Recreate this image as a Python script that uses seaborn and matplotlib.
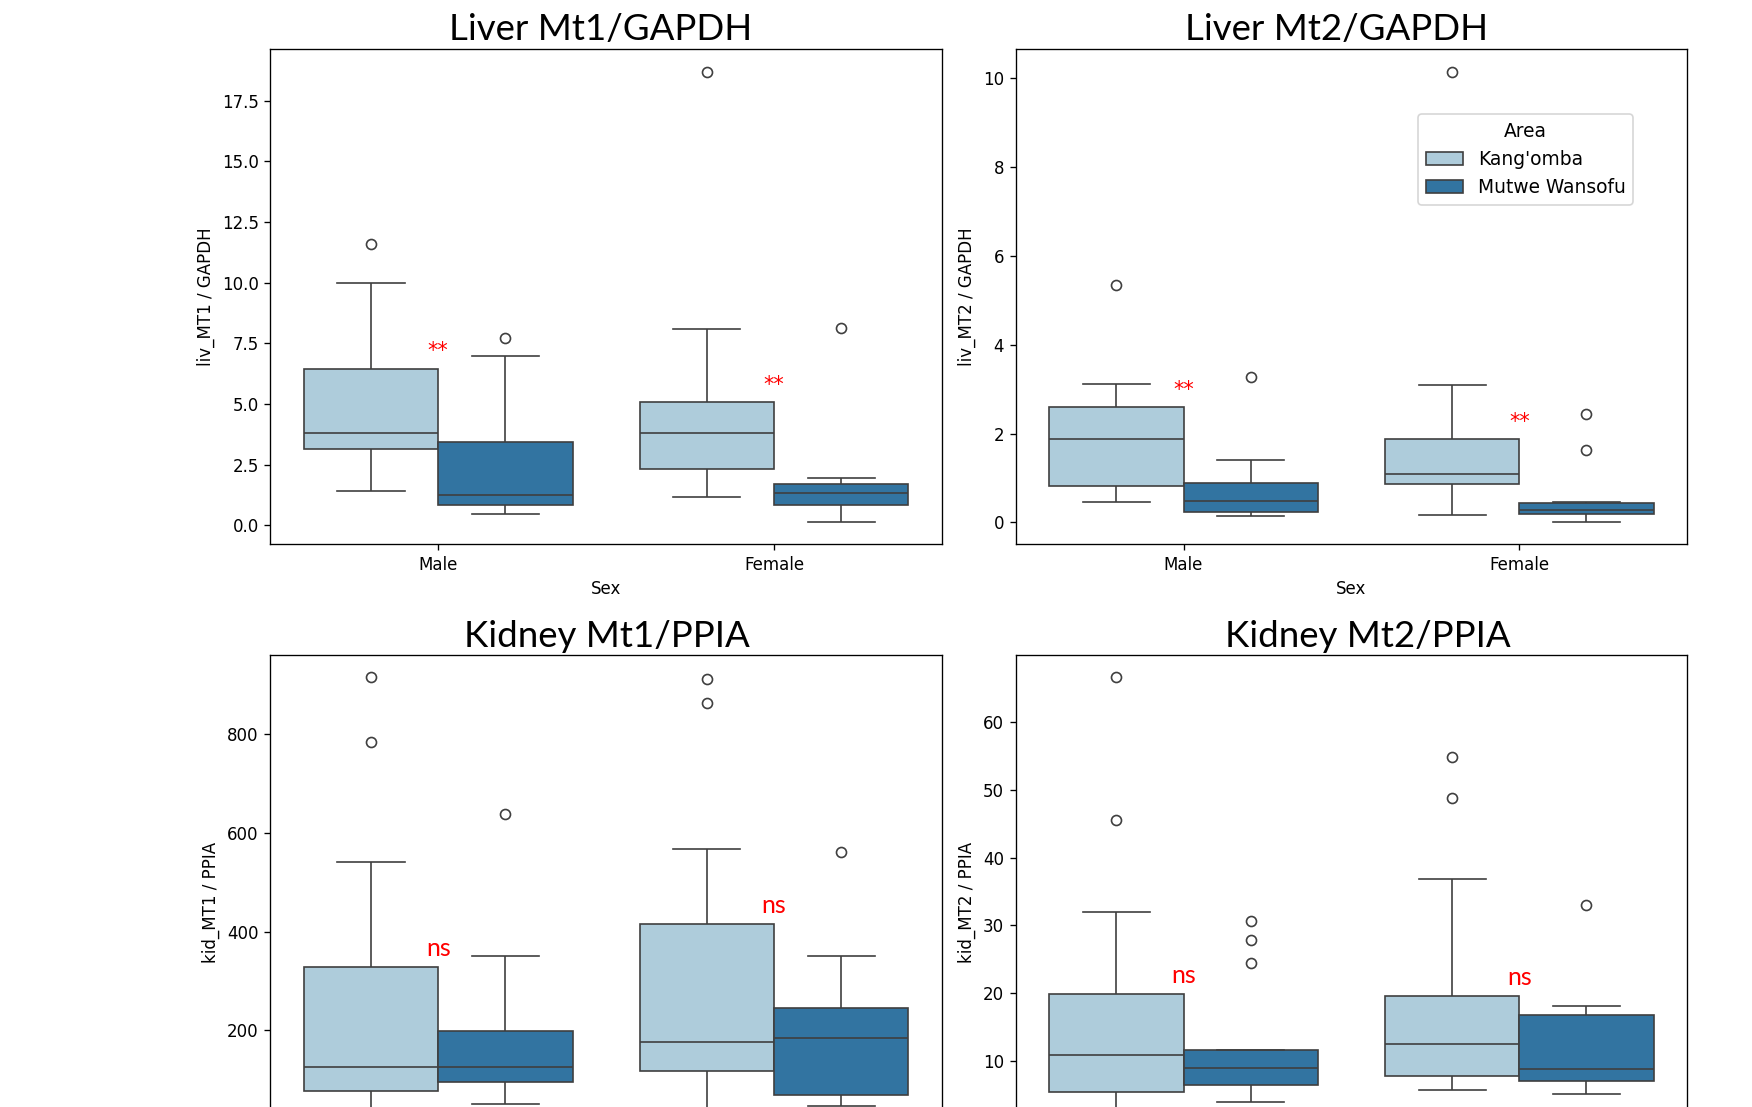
import numpy as np
import pandas as pd
import matplotlib
matplotlib.use("Agg")
import matplotlib.pyplot as plt
import seaborn as sns

sex_order = ["Male", "Female"]
area_order = ["Kang'omba", "Mutwe Wansofu"]

# values (whisker ends, quartiles, median, outliers)
liv_mt1_male_kang = [1.4, 2.6, 3.15, 3.5, 3.82, 5.2, 6.45, 10.0, 11.6]
liv_mt1_male_mutwe = [0.48, 0.7, 0.82, 1.0, 1.25, 2.2, 3.44, 6.98, 7.7]
liv_mt1_female_kang = [1.18, 1.9, 2.3, 3.2, 3.81, 4.4, 5.06, 8.1, 18.7]
liv_mt1_female_mutwe = [0.15, 0.6, 0.85, 1.1, 1.32, 1.5, 1.71, 1.94, 8.12]

liv_mt2_male_kang = [0.45, 0.6, 0.83, 1.4, 1.88, 2.2, 2.6, 3.11, 5.35]
liv_mt2_male_mutwe = [0.15, 0.2, 0.23, 0.35, 0.48, 0.7, 0.89, 1.41, 3.27]
liv_mt2_female_kang = [0.17, 0.6, 0.86, 0.95, 1.08, 1.5, 1.88, 3.09, 10.14]
liv_mt2_female_mutwe = [0.02, 0.1, 0.15, 0.18, 0.2, 0.24, 0.27, 0.32, 0.38,
                        0.44, 0.46, 1.63, 2.43]

kid_mt1_male_kang = [3, 40, 60, 77.5, 95, 110, 125.5, 180, 250, 327.7, 541.7, 785, 916]
kid_mt1_male_mutwe = [50.5, 80, 94.4, 110, 126, 160, 197.8, 350, 639.6]
kid_mt1_female_kang = [20, 70, 100, 118, 140, 160, 175.6, 250, 330, 414.4, 566.7, 864, 913]
kid_mt1_female_mutwe = [45.6, 55, 68.7, 120, 184.4, 215, 244.6, 349.5, 561.2]

kid_mt2_male_kang = [0.2, 2.5, 4.0, 5.46, 7.0, 9.0, 10.88, 13.0, 16.0, 19.83, 31.9, 45.6, 66.6]
kid_mt2_male_mutwe = [3.9, 4.8, 5.6, 6.4, 7.5, 8.3, 9.0, 9.8, 10.7, 11.57, 24.5, 27.9, 30.7]
kid_mt2_female_kang = [5.66, 6.5, 7.2, 7.78, 9.0, 11.0, 12.45, 14.5, 17.0, 19.5, 36.9, 48.8, 54.9]
kid_mt2_female_mutwe = [5.07, 6.2, 7.04, 8.0, 8.8, 12.0, 16.7, 18.1, 33.0]

panels = [
    ("liv_MT1", "liv_MT1 / GAPDH", "Liver Mt1/GAPDH", "**",
     [liv_mt1_male_kang, liv_mt1_male_mutwe, liv_mt1_female_kang, liv_mt1_female_mutwe]),
    ("liv_MT2", "liv_MT2 / GAPDH", "Liver Mt2/GAPDH", "**",
     [liv_mt2_male_kang, liv_mt2_male_mutwe, liv_mt2_female_kang, liv_mt2_female_mutwe]),
    ("kid_MT1", "kid_MT1 / PPIA", "Kidney Mt1/PPIA", "ns",
     [kid_mt1_male_kang, kid_mt1_male_mutwe, kid_mt1_female_kang, kid_mt1_female_mutwe]),
    ("kid_MT2", "kid_MT2 / PPIA", "Kidney Mt2/PPIA", "ns",
     [kid_mt2_male_kang, kid_mt2_male_mutwe, kid_mt2_female_kang, kid_mt2_female_mutwe]),
]

# layout (figure fractions), the lower row runs past the bottom edge
axes_rects = [
    [0.1543, 0.5085, 0.3833, 0.4471],
    [0.5797, 0.5085, 0.3833, 0.4471],
    [0.1543, -0.0386, 0.3833, 0.4471],
    [0.5797, -0.0386, 0.3833, 0.4471],
]
title_pos = [(0.3427, 0.9643), (0.7631, 0.9643), (0.3463, 0.4155), (0.7805, 0.4155)]

fig = plt.figure(figsize=(14.6, 9.225), dpi=120)

for i, (col, ylabel, title, mark, groups) in enumerate(panels):
    rows = []
    k = 0
    for sex in sex_order:
        for area in area_order:
            for v in groups[k]:
                rows.append({"Sex": sex, "Area": area, col: v})
            k += 1
    df = pd.DataFrame(rows)

    ax = fig.add_axes(axes_rects[i])
    sns.boxplot(data=df, x="Sex", y=col, hue="Area", order=sex_order,
                hue_order=area_order, palette="Paired", ax=ax, legend=(i == 1))
    ax.set_ylabel(ylabel)
    if i < 2:
        ax.set_xlabel("Sex")
    else:
        # lower row: x labels and the lowest y tick fall below the visible figure
        ax.set_xlabel("")
        ax.set_xticklabels([])
        lo, hi = ax.get_ylim()
        ax.set_yticks([t for t in ax.get_yticks() if lo + 0.12 * (hi - lo) < t <= hi])
        ax.set_ylim(lo, hi)

    if i == 1:
        sns.move_legend(ax, "upper right", bbox_to_anchor=(0.9195, 0.8687),
                        borderaxespad=0, title="Area", fontsize=11.2,
                        title_fontsize=11.2)

    # significance marks above the higher box of each pair
    for j, sex in enumerate(sex_order):
        q3 = max(np.percentile(groups[2 * j], 75), np.percentile(groups[2 * j + 1], 75))
        if mark == "**":
            ax.annotate(mark, (j, q3), xytext=(0, 6.8), textcoords="offset points",
                        ha="center", va="baseline", color="red", fontsize=12.5)
        else:
            ax.annotate(mark, (j, q3), xytext=(0, 7.0), textcoords="offset points",
                        ha="center", va="baseline", color="red", fontsize=15,
                        family=["Lato", "DejaVu Sans"])

    fig.text(title_pos[i][0], title_pos[i][1], title, ha="center", va="baseline",
             fontsize=22, family=["Lato", "DejaVu Sans"])

fig.savefig("out.png", dpi=120)
plt.close(fig)
